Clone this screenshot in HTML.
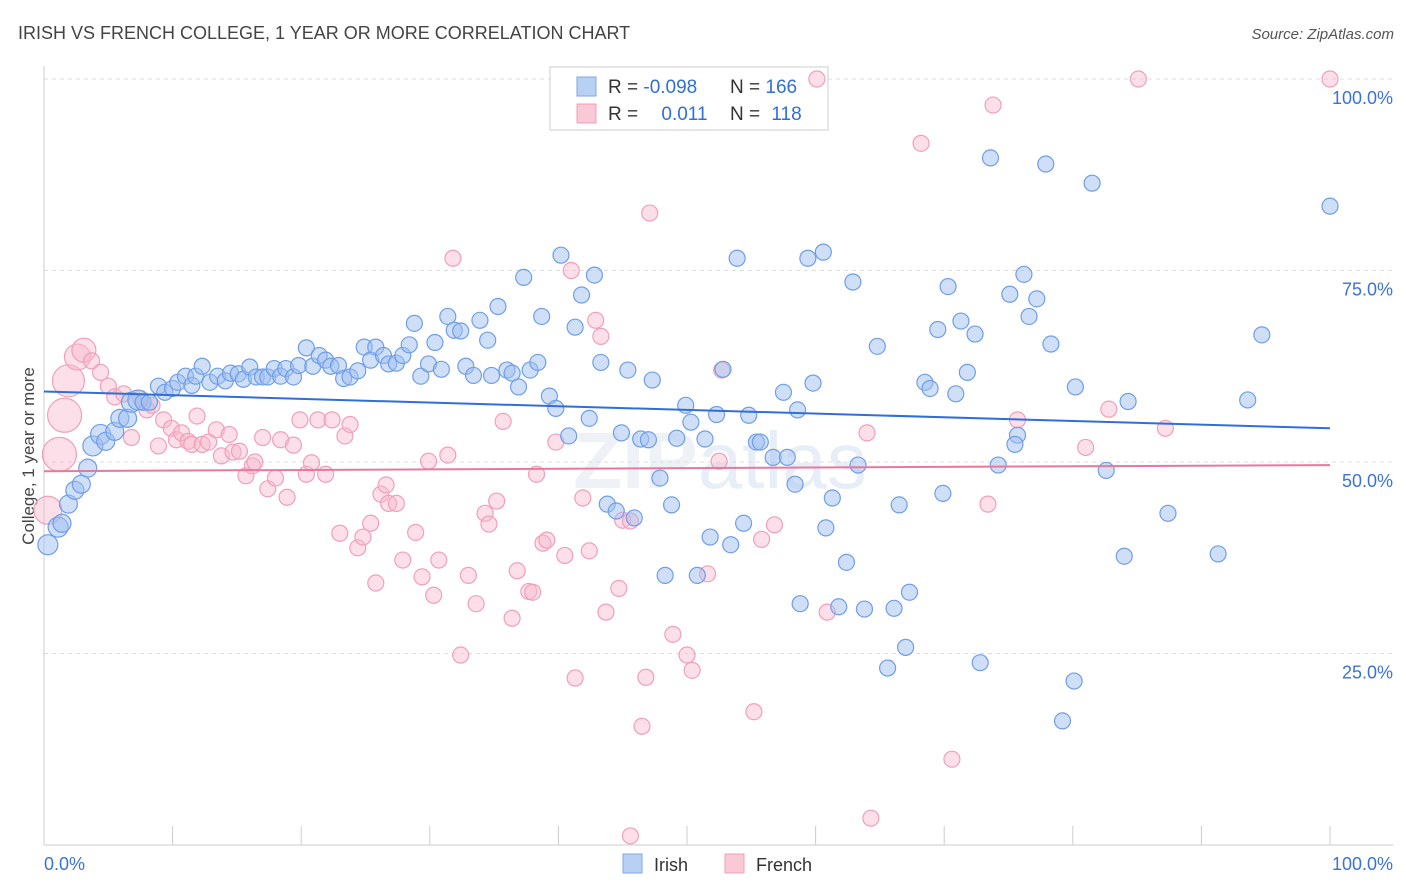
<!DOCTYPE html>
<html><head><meta charset="utf-8"><style>
body{margin:0;background:#fff;font-family:"Liberation Sans",sans-serif;}
svg{display:block}
</style></head><body>
<svg id="chart" width="1406" height="892" viewBox="0 0 1406 892">
<text x="18" y="39" font-size="18" fill="#444">IRISH VS FRENCH COLLEGE, 1 YEAR OR MORE CORRELATION CHART</text>
<text x="1394" y="39" font-size="15" fill="#555" font-style="italic" text-anchor="end">Source: ZipAtlas.com</text>
<text transform="translate(34,456) rotate(-90)" font-size="17" fill="#444" text-anchor="middle">College, 1 year or more</text>
<text x="720" y="488" font-size="80" fill="#eef2f7" text-anchor="middle" font-weight="bold">ZIP<tspan font-weight="normal" fill="#e8eef8">atlas</tspan></text>
<g id="grid"></g>
<g>
<rect x="550" y="67" width="278" height="63" fill="#fff" stroke="#ccc"/>
<rect x="577" y="77" width="19" height="19" fill="#b9d0f5" stroke="#7ea6e6"/>
<rect x="577" y="104" width="19" height="19" fill="#f9c9d7" stroke="#f0a0b9"/>
<text x="608" y="93" font-size="19" fill="#333">R = <tspan fill="#2f6fd6">-0.098</tspan></text>
<text x="730" y="93" font-size="19" fill="#333">N = <tspan fill="#2f6fd6">166</tspan></text>
<text x="608" y="120" font-size="19" fill="#333">R = <tspan fill="#2f6fd6" dx="18">0.011</tspan></text>
<text x="730" y="120" font-size="19" fill="#333">N = <tspan fill="#2f6fd6" dx="6">118</tspan></text>
</g>
<g id="marks"></g>
<g id="lines"></g>
<g>
<rect x="623" y="854" width="19" height="19" fill="#b9d0f5" stroke="#7ea6e6"/>
<text x="654" y="871" font-size="18" fill="#333">Irish</text>
<rect x="725" y="854" width="19" height="19" fill="#f9c9d7" stroke="#f0a0b9"/>
<text x="756" y="871" font-size="18" fill="#333">French</text>
</g>
</svg>
<script>
const irishX=[0.3,1.1,1.4,1.9,2.4,2.9,3.4,3.8,4.4,4.8,5.5,5.9,6.5,6.8,7.3,7.7,8.2,8.9,9.4,10.0,10.4,11.0,11.5,11.8,12.3,12.9,13.5,14.1,14.5,15.1,15.5,16.0,16.5,17.0,17.4,17.9,18.4,18.8,19.4,19.8,20.4,20.9,21.4,21.9,22.3,22.9,23.3,23.8,24.4,24.9,25.4,25.8,26.4,26.8,27.4,27.9,28.4,28.8,29.3,29.9,30.4,30.9,31.4,31.9,32.4,32.8,33.4,33.9,34.5,34.8,35.3,36.0,36.4,36.9,37.3,37.8,38.4,38.7,39.3,39.8,40.2,40.8,41.3,41.8,42.4,42.8,43.3,43.8,44.5,44.9,45.4,45.9,46.4,47.0,47.3,47.9,48.8,48.3,49.2,49.9,50.3,50.8,51.4,51.8,52.3,52.8,53.4,53.9,54.4,54.8,55.4,55.7,56.7,57.5,57.8,58.4,58.6,58.8,59.4,59.8,60.6,60.8,61.3,61.8,62.4,62.9,63.3,63.8,64.8,65.6,66.1,66.5,67.0,67.3,68.5,68.9,69.5,69.9,70.3,70.9,71.3,71.8,72.4,72.8,73.6,74.2,75.1,75.7,75.5,76.2,76.6,77.2,77.9,78.3,79.2,80.1,80.2,81.5,82.6,84.0,84.3,87.4,91.3,93.6,94.7,100];
const irishY=[39.2,41.5,42.0,44.5,46.3,47.1,49.2,52.1,53.6,52.7,54.0,55.7,55.7,57.8,58.1,57.8,57.8,59.9,59.1,59.6,60.4,61.2,60.0,61.2,62.5,60.4,61.2,60.6,61.6,61.5,60.8,62.4,61.1,61.1,61.1,62.2,61.2,62.2,61.1,62.6,64.9,62.5,63.9,63.3,62.5,62.6,60.9,61.1,61.9,65.0,63.3,65.0,63.9,62.8,62.9,63.9,65.3,68.1,61.2,62.8,65.6,62.1,69.0,67.2,67.1,62.5,61.3,68.5,65.9,61.3,70.3,62.0,61.6,59.8,74.1,62.0,63.0,69.0,58.6,57.0,77.0,53.4,67.6,71.8,55.7,74.4,63.0,44.5,43.6,53.8,62.0,42.7,53.0,52.9,60.7,47.9,44.4,35.2,53.1,57.4,55.2,35.2,53.0,40.2,56.2,62.1,39.2,76.6,42.0,56.1,52.6,52.6,50.6,59.1,50.6,47.1,56.8,31.5,76.6,60.3,77.4,41.4,45.3,31.1,36.9,73.5,49.6,30.8,65.1,23.1,30.9,44.4,25.8,33.0,60.4,59.6,67.3,45.9,72.9,58.9,68.4,61.7,66.7,23.8,89.7,49.6,71.9,53.5,52.3,74.5,69.0,71.3,88.9,65.4,16.2,21.4,59.8,86.4,48.9,37.7,57.9,43.3,38.0,58.1,66.6,83.4];
const frenchX=[0.3,1.2,1.6,1.9,2.6,3.1,3.7,4.4,5.0,5.5,6.2,6.8,7.5,8.0,8.4,8.9,9.3,9.9,10.3,10.7,11.2,11.5,11.9,12.3,12.8,13.4,13.8,14.4,14.7,15.2,15.7,16.2,16.4,17.0,17.4,18.0,18.4,18.9,19.4,19.9,20.4,20.8,21.3,21.9,22.4,23.0,23.4,23.8,24.4,24.8,25.4,25.8,26.2,26.6,26.8,27.4,27.9,28.9,29.4,29.9,30.3,30.7,31.4,31.8,32.4,33.0,33.6,34.3,34.6,35.2,35.7,36.4,36.8,37.7,38.0,38.3,38.8,39.1,39.8,40.5,41.0,41.3,41.9,42.4,42.9,43.3,43.7,44.7,45.0,45.6,46.5,46.8,47.1,48.9,50.0,50.4,51.6,52.5,52.7,55.2,55.8,56.8,60.1,60.9,64.0,64.3,68.2,70.6,73.8,73.4,75.7,81.0,82.8,85.1,87.2,100,45.6];
const frenchY=[43.7,51.0,56.1,60.6,63.7,64.6,63.2,61.7,59.9,58.5,58.9,53.2,58.3,56.8,57.4,52.1,55.5,54.4,52.9,53.8,52.7,52.3,56.0,52.3,52.6,54.2,50.8,53.6,51.3,51.4,48.2,49.5,50.0,53.2,46.5,47.9,52.9,45.4,52.2,55.5,48.4,49.9,55.5,48.4,55.5,40.7,53.4,54.9,38.8,40.2,42.0,34.2,45.8,47.0,44.6,44.6,37.2,40.8,35.0,50.1,32.6,37.2,50.9,76.6,24.8,35.2,31.5,43.3,41.9,44.9,55.3,29.6,35.8,33.1,33.0,48.4,39.4,39.8,52.6,37.8,75.0,21.8,45.3,38.4,68.5,66.4,30.4,33.5,42.4,42.3,15.5,21.9,82.5,27.5,24.8,22.8,35.4,50.1,62.0,17.4,39.9,41.8,100,30.4,53.8,3.5,91.6,11.2,96.6,44.5,55.5,51.9,56.9,100,54.4,100,1.2];
const frenchBig=[14,17,17,16,13,12];
const irishBig=[10,10,9,9,9,9,9,10,10,9,9,9,9,10,10];
const irishFit=[59.2,54.4];
const frenchFit=[48.8,49.6];
const yTicks=[25,50,75,100];
const yTickLabels=["25.0%","50.0%","75.0%","100.0%"];
const xTicks=[0,10,20,30,40,50,60,70,80,90,100];

const X0=44,X1=1330,Y0=845,Y100=79;
const sx=v=>X0+(X1-X0)*v/100;
const sy=v=>Y0-(Y0-Y100)*v/100;
const NS="http://www.w3.org/2000/svg";
function mk(tag,attrs,parent){const e=document.createElementNS(NS,tag);for(const k in attrs)e.setAttribute(k,attrs[k]);parent.appendChild(e);return e;}
const grid=document.getElementById('grid'),marks=document.getElementById('marks'),lines=document.getElementById('lines');
let ax=mk('line',{x1:X0,y1:66,x2:X0,y2:Y0,stroke:'#ccc'},grid);


let bx=mk('line',{x1:X0,y1:Y0,x2:1393,y2:Y0,stroke:'#ccc'},grid);


yTicks.forEach((t,i)=>{
 const g=mk('line',{x1:X0,y1:sy(t),x2:1393,y2:sy(t),stroke:'#ddd','stroke-dasharray':'4 4'},grid);
 
 
 const l=mk('text',{x:1393,y:sy(t)+25,'font-size':18,fill:'#3b72d9','text-anchor':'end'},grid);
 l.textContent=yTickLabels[i];
 
 
});
xTicks.forEach(t=>{
 const g=mk('line',{x1:sx(t),y1:Y0,x2:sx(t),y2:Y0-19,stroke:'#ccc'},grid);
 
 
});
let xl=mk('text',{x:44,y:870,'font-size':18,fill:'#3b72d9'},grid);xl.textContent='0.0%';


let xr=mk('text',{x:1393,y:870,'font-size':18,fill:'#3b72d9','text-anchor':'end'},grid);xr.textContent='100.0%';



frenchX.forEach((x,i)=>{
 const c=mk('circle',{cx:sx(x),cy:sy(frenchY[i]),r:frenchBig[i]||8,fill:'rgba(248,185,205,0.45)',stroke:'#f0a0b9','stroke-width':1.2},marks);
 
 
});
irishX.forEach((x,i)=>{
 const c=mk('circle',{cx:sx(x),cy:sy(irishY[i]),r:irishBig[i]||8,fill:'rgba(160,192,242,0.5)',stroke:'#6f9ee8','stroke-width':1.2},marks);
 
 
});
const bl=mk('line',{x1:sx(0),y1:sy(irishFit[0]),x2:sx(100),y2:sy(irishFit[1]),stroke:'#2f6fd6','stroke-width':2},lines);


const pl=mk('line',{x1:sx(0),y1:sy(frenchFit[0]),x2:sx(100),y2:sy(frenchFit[1]),stroke:'#e8789d','stroke-width':2},lines);


</script>
</body></html>
